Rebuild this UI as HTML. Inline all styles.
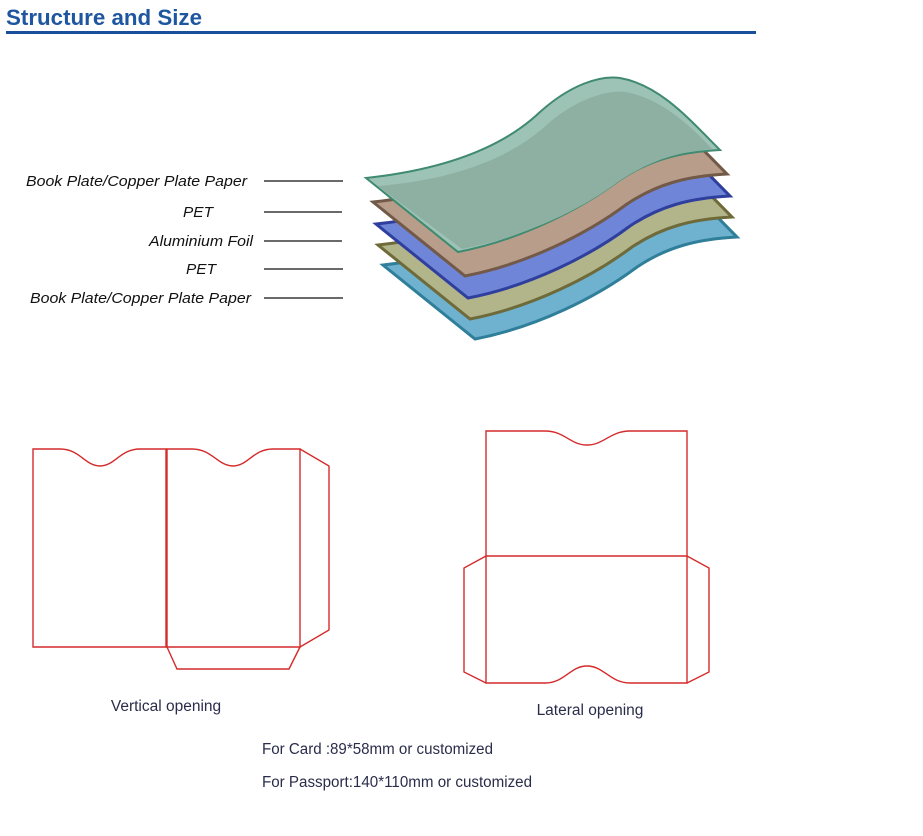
<!DOCTYPE html>
<html><head><meta charset="utf-8"><style>
html,body{margin:0;padding:0;background:#fff;width:923px;height:836px;overflow:hidden}
</style></head><body>
<svg width="923" height="836" viewBox="0 0 923 836" xmlns="http://www.w3.org/2000/svg" font-family="Liberation Sans, sans-serif">
<text x="6" y="25" font-size="22" font-weight="bold" fill="#1f56a0" textLength="196" lengthAdjust="spacingAndGlyphs">Structure and Size</text>
<rect x="6" y="31" width="750" height="3" fill="#1a4f9c"/>

<g font-size="15" font-style="italic" fill="#111">
<text x="26" y="186" textLength="221" lengthAdjust="spacingAndGlyphs">Book Plate/Copper Plate Paper</text>
<text x="183" y="217" textLength="30" lengthAdjust="spacingAndGlyphs">PET</text>
<text x="149" y="246" textLength="104" lengthAdjust="spacingAndGlyphs">Aluminium Foil</text>
<text x="186" y="274" textLength="30" lengthAdjust="spacingAndGlyphs">PET</text>
<text x="30" y="303" textLength="221" lengthAdjust="spacingAndGlyphs">Book Plate/Copper Plate Paper</text>
</g>
<g stroke="#111" stroke-width="1.2">
<line x1="264" y1="181" x2="343" y2="181"/><line x1="264" y1="212" x2="342" y2="212"/>
<line x1="264" y1="241" x2="342" y2="241"/><line x1="264" y1="269" x2="343" y2="269"/>
<line x1="264" y1="298" x2="343" y2="298"/>
</g>

<defs>
<path id="sheet" d="M366,178 C440,170 500,150 540,112 C570,85 600,75 620,78 C660,85 690,120 720,150 C680,152 650,160 620,180 C580,210 520,240 458,252 Z"/>
</defs>
<g>
<use href="#sheet" transform="translate(17,87)" fill="#6fb2d0" stroke="#2f7f9a" stroke-width="3"/>
<use href="#sheet" transform="translate(12,67)" fill="#b2b58a" stroke="#6e6a3a" stroke-width="3"/>
<use href="#sheet" transform="translate(10,46)" fill="#6f86d8" stroke="#2f3f9e" stroke-width="3"/>
<use href="#sheet" transform="translate(7,24)" fill="#b89e8a" stroke="#735a48" stroke-width="3"/>
<use href="#sheet" fill="#9cc3b6" stroke="#3f8a70" stroke-width="2"/>
<path d="M378,186 C450,180 510,160 550,122 C580,97 610,90 625,92 C660,98 690,125 712,149 C675,152 648,162 618,182 C578,212 520,238 462,249 Z" fill="#8db0a3"/>
</g>

<g fill="none" stroke="#d42a2a" stroke-width="1.4">
<path d="M33,449 L60,449 C80,449 85,466 100,466 C115,466 120,449 140,449 L166,449 L166,647 L33,647 Z"/>
<path d="M167,449 L192,449 C212,449 218,466 233,466 C248,466 253,449 273,449 L300,449 L300,647 L167,647 Z"/>
<path d="M300,449 L329,466 L329,630 L300,647"/>
<path d="M167,647 L177,669 L289,669 L300,647"/>
<path d="M486,556 L486,431 L545,431 C565,431 570,445 587,445 C604,445 610,431 630,431 L687,431 L687,556 Z"/>
<path d="M486,556 L486,683 L545,683 C565,683 570,666 587,666 C604,666 610,683 630,683 L687,683 L687,556"/>
<path d="M486,556 L464,568 L464,672 L486,683"/>
<path d="M687,556 L709,568 L709,672 L687,683"/>
</g>

<g font-size="15.5" fill="#2a2d4a">
<text x="166" y="711" text-anchor="middle">Vertical opening</text>
<text x="590" y="715" text-anchor="middle">Lateral opening</text>
<text x="262" y="754" textLength="231" lengthAdjust="spacingAndGlyphs">For Card :89*58mm or customized</text>
<text x="262" y="787" textLength="270" lengthAdjust="spacingAndGlyphs">For Passport:140*110mm or customized</text>
</g>
</svg>
</body></html>
